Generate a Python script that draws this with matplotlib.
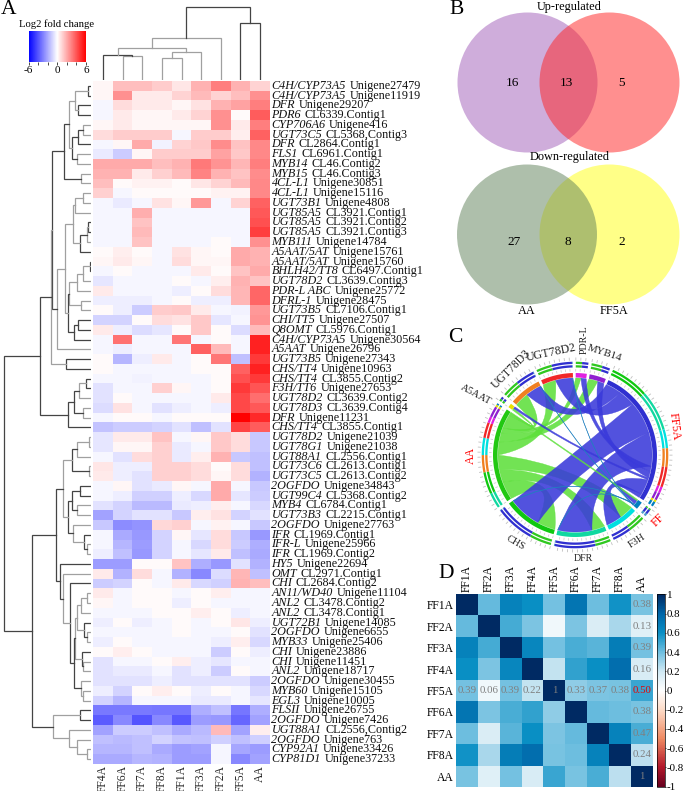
import numpy as np
import matplotlib
matplotlib.use("Agg")
import matplotlib.pyplot as plt
from matplotlib.cm import ScalarMappable
from matplotlib.collections import LineCollection
from matplotlib.colors import LinearSegmentedColormap, Normalize
from matplotlib.patches import Circle, PathPatch, Polygon
from matplotlib.path import Path

plt.rcParams["font.family"] = ["Liberation Serif", "DejaVu Serif"]

W, H = 685, 791

# Panel A
col_names = ["FF4A", "FF6A", "FF7A", "FF8A", "FF1A", "FF3A", "FF2A", "FF5A", "AA"]
genes = ["C4H/CYP73A5", "C4H/CYP73A5", "DFR", "PDR6", "CYP706A6", "UGT73C5", "DFR", "FLS1", "MYB14", "MYB15",
         "4CL-L1", "4CL-L1", "UGT73B1", "UGT85A5", "UGT85A5", "UGT85A5", "MYB111", "A5AAT/5AT", "A5AAT/5AT",
         "BHLH42/TT8", "UGT78D2", "PDR-L ABC", "DFRL-1", "UGT73B5", "CHI/TT5", "Q8OMT", "C4H/CYP73A5", "A5AAT",
         "UGT73B5", "CHS/TT4", "CHS/TT4", "F3H/TT6", "UGT78D2", "UGT78D3", "DFR", "CHS/TT4", "UGT78D2", "UGT78G1",
         "UGT88A1", "UGT73C6", "UGT73C5", "2OGFDO", "UGT99C4", "MYB4", "UGT73B3", "2OGFDO", "IFR", "IFR-L", "IFR",
         "HY5", "OMT", "CHI", "AN11/WD40", "ANL2", "ANL2", "UGT72B1", "2OGFDO", "MYB33", "CHI", "CHI", "ANL2",
         "2OGFDO", "MYB60", "EGL3", "FLSII", "2OGFDO", "UGT88A1", "2OGFDO", "CYP92A1", "CYP81D1"]
gene_ids = ["Unigene27479", "Unigene11919", "Unigene29207", "CL6339.Contig1", "Unigene416", "CL5368,Contig3",
            "CL2864.Contig1", "CL6961.Contig1", "CL46.Contig2", "CL46.Contig3", "Unigene30851", "Unigene15116",
            "Unigene4808", "CL3921.Contig1", "CL3921.Contig2", "CL3921.Contig3", "Unigene14784", "Unigene15761",
            "Unigene15760", "CL6497.Contig1", "CL3639.Contig3", "Unigene25772", "Unigene28475", "CL7106.Contig1",
            "Unigene27507", "CL5976.Contig1", "Unigene30564", "Unigene26796", "Unigene27343", "Unigene10963",
            "CL3855.Contig2", "Unigene27653", "CL3639.Contig2", "CL3639.Contig4", "Unigene11231", "CL3855.Contig1",
            "Unigene21039", "Unigene21038", "CL2556.Contig1", "CL2613.Contig1", "CL2613.Contig2", "Unigene34843",
            "CL5368.Contig2", "CL6784.Contig1", "CL2215.Contig1", "Unigene27763", "CL1969.Contig1", "Unigene25966",
            "CL1969.Contig2", "Unigene22694", "CL2971.Contig1", "CL2684.Contig2", "Unigene11104", "CL3478.Contig2",
            "CL3478.Contig1", "Unigene14085", "Unigene6655", "Unigene25406", "Unigene23886", "Unigene11451",
            "Unigene18717", "Unigene30455", "Unigene15105", "Unigene10005", "Unigene26755", "Unigene7426",
            "CL2556,Contig2", "Unigene763", "Unigene33426", "Unigene37233"]
fold_change = [
    [.2, 1.5, 1.5, 1.2, .6, 1.8, 3.0, 1.8, 1.0],
    [.2, 2.6, .5, .5, 1.0, 1.6, 1.0, 1.5, 2.6],
    [-.2, .8, .5, .5, .2, .7, 1.8, 2.2, 3.0],
    [-.2, .5, .2, .2, .5, 1.0, 2.6, .1, 3.8],
    [.2, .5, .2, .2, .2, .2, 2.6, .5, 3.0],
    [.8, 1.2, 1.2, 1.2, -.2, 1.2, 1.2, .4, 3.7],
    [-.2, .2, 2.0, -.3, 1.0, 1.3, 2.7, 1.4, 2.8],
    [-.5, -1.2, .2, 1.2, 1.2, 1.2, 2.2, 1.3, 2.8],
    [2.0, 2.0, 2.0, 1.5, 1.8, 3.1, 2.5, 1.7, 3.0],
    [1.8, 1.8, .5, 1.1, 1.6, 2.9, 1.8, 1.4, 2.7],
    [1.5, .1, .3, .3, .1, .6, 1.0, 1.6, 2.8],
    [1.1, -.2, .1, .1, .1, .1, .3, .3, 2.8],
    [-.2, -.5, -.2, .7, .2, 2.4, -.2, 1.0, 3.7],
    [-.2, -.2, 1.9, -.2, -.2, -.2, -.2, -.2, 3.9],
    [-.2, -.2, 1.4, -.2, -.2, -.2, -.2, -.2, 4.1],
    [-.2, -.2, 1.6, -.2, -.2, -.2, -.2, -.2, 4.5],
    [-.2, -.2, 1.4, -.2, -.2, -.2, .1, -.2, 2.6],
    [.1, .4, .1, -.2, .7, .2, .1, 2.0, 1.8],
    [.2, .5, .2, -.2, .8, .2, .2, 2.0, 1.8],
    [-.2, .1, -.2, -.2, -.2, .5, .1, 1.4, 2.0],
    [-.6, -.2, -.2, -.2, .1, -.2, .4, 1.8, 1.4],
    [.5, -.2, -.2, -.2, -.4, .1, .8, 1.7, 3.6],
    [-.4, -.4, -.4, -.2, .1, -.4, -.4, 1.7, 3.6],
    [.1, -.4, -1.2, 1.2, 1.3, .5, -.2, -.3, 2.4],
    [-1.0, -1.0, .1, .8, .7, 1.3, -.6, -.2, 2.5],
    [.5, -.4, -.8, -.6, .1, 1.3, .1, -.8, 1.6],
    [-.2, 3.3, -.2, -.2, 3.2, -.2, .1, -.2, 5.2],
    [-.2, -.4, -.2, -.2, -.2, 3.7, 1.6, -.2, 5.2],
    [.1, -1.7, -.4, .5, -.2, .1, 3.2, -1.5, 4.6],
    [.1, -.2, -.2, -.2, -.2, .1, .1, 3.7, 5.2],
    [-.2, -.2, -.3, -.2, -.2, -.2, .1, 4.1, 4.6],
    [-.7, -.2, -.2, 1.1, .2, -.2, .1, 4.6, 4.0],
    [-.7, .1, -.2, -.2, -.2, -.2, .5, 4.3, 3.4],
    [-.8, .7, -.2, -.7, -.4, -.2, -.4, 4.3, 3.9],
    [-.2, .1, .1, -.2, .1, .1, .1, 6.0, 5.0],
    [-1.4, -1.2, -1.2, -1.0, -.7, -1.5, -.7, 4.4, 3.8],
    [-.6, .5, .5, 1.4, -.2, .2, 1.3, .8, -1.3],
    [-.6, .2, .2, 1.1, -.5, -.2, 1.3, .8, -1.3],
    [-.2, -.7, .8, 1.1, -.5, .4, 1.8, -1.3, -1.5],
    [.6, -.4, -.4, 1.1, 1.1, .8, .1, .8, -1.5],
    [.5, -.4, -.7, 1.1, 1.1, .8, .2, .8, -1.8],
    [-.2, .2, -.7, -.5, .2, -.2, 2.0, -.2, -1.3],
    [-.2, -.4, -1.1, -1.1, -.4, -.9, 2.0, -.6, -1.2],
    [-.7, -1.0, -1.6, -1.6, -.5, -.4, .4, -.2, -.9],
    [-2.2, -1.0, -.7, -.7, -1.3, .4, .7, -1.0, -.7],
    [-1.3, -2.7, -2.5, .9, 1.1, -.2, .3, -.2, -1.3],
    [-.2, -2.0, -2.4, -1.0, .2, -.6, .8, -1.3, -2.4],
    [-.2, -1.7, -2.3, -1.0, -.2, -.9, .8, -1.2, -1.9],
    [-.4, -1.5, -2.4, -1.0, -.2, -.6, .5, -1.5, -2.0],
    [-2.3, -2.3, .1, .1, 1.4, -1.9, -2.4, -.7, -1.8],
    [.5, -1.8, .8, -.2, -1.8, -2.8, -.8, 1.7, -1.5],
    [-1.2, -1.0, .1, -.2, .5, -.9, -1.1, 1.8, 1.5],
    [.5, -.2, .1, .1, -.2, .1, .4, -.2, -.2],
    [.2, -.2, .1, .1, -.4, .1, -.2, -.2, -.2],
    [-.2, -.2, -.2, .1, .1, .4, .1, -.4, -.2],
    [-.4, .1, -.4, -.2, .1, -.2, .1, .6, -.4],
    [-.2, -.2, -.2, -.2, .1, -.2, -.2, .1, -.7],
    [-.4, .1, -.2, -.2, -.2, -.2, -.4, .4, -.9],
    [.1, .4, .1, -.2, -.2, -.2, -1.2, .1, -.4],
    [-.7, -.2, -.2, .1, .4, -.4, -.6, -.2, -.2],
    [-.7, -.5, -.5, -.2, -.7, -.4, -1.2, .1, -.2],
    [-.7, -.7, -.7, -.4, -.7, -.7, -.7, -.7, -1.2],
    [-.4, -1.0, .1, .4, .1, -.4, .1, -.2, -.9],
    [-1.0, -1.7, -.2, -.2, -.2, -.5, -.5, -.2, -.6],
    [-3.1, -3.1, -3.1, -3.2, -3.2, -1.9, -1.5, -3.2, -1.9],
    [-3.8, -2.8, -4.0, -2.8, -3.9, -2.3, -2.4, -3.6, -2.2],
    [-2.2, -1.2, -1.2, -1.5, -2.0, -1.6, 1.6, -2.2, .4],
    [-1.5, -1.6, -1.5, -1.0, -1.4, -1.5, -1.1, -1.5, -1.1],
    [-1.7, -1.7, -1.5, -2.0, -2.3, -2.2, -.2, -2.1, -2.3],
    [-2.0, -2.0, -1.7, -1.8, -2.3, -2.3, -.2, -2.8, -2.2],
]

# dendrograms as (merge height, child, child), row leaves are numbered from 1
top_block = (22, (16, (3, 1, 2), (13, 3, 4)), (19, (13, (8, 5, 6), 7), (14, 8, 9)))
rows_1_11 = (27, top_block, (10, 10, 11))
rows_12_18 = (18, (16, (8, 12, 13), 14), (11, (4, (3, 15, 16), 17), 18))
rows_19_27 = (23, (22, (14, (8, (1, 19, 20), 21), 22), (10, 23, 24)), (17, (13, 25, 26), 27))
rows_1_30 = (40, (39, rows_1_11, (34, (26, rows_12_18, rows_19_27), 28)), (25, 29, 30))
rows_31_36 = (23, (17, (12, (5, 31, 32), 33), (8, 34, 35)), 36)
rows_37_49 = (28, (19, (14, (2, 37, 38), 39), (2, 40, 41)),
              (23, (19, (11, 42, 43), (14, 44, 45)), (18, 46, (7, 47, (4, 48, 49)))))
rows_53_64 = (17, (16, (14, (10, (4, 53, 54), 55), (7, 56, (4, 57, 58))), (9, 59, (8, 60, 61))),
              (10, 62, (8, 63, 64)))
rows_50_64 = (31, 50, (28, 51, (21, 52, rows_53_64)))
rows_65_70 = (38, (11, 65, 66), (22, 67, (14, 68, (4, 69, 70))))
row_tree = (87, (51, rows_1_30, rows_31_36), (59, (35, rows_37_49, rows_50_64), rows_65_70))
col_tree = (73, (42, (32, (25, 1, (24, 2, 3)), (28, (22, 4, 5), 6)), 7), (57, 8, 9))

# Panel B
up_counts = [16, 13, 5]
down_counts = [27, 8, 2]

# Panel C: sectors clockwise from the top, links as (gene, partner, size)
sector_names = ["PDR-L", "MYB14", "FF5A", "FF", "F3H", "DFR", "CHS", "AA", "A5AAT", "UGT78D3", "UGT78D2"]
sector_colors = ["#e020e0", "#9020d0", "#3030d0", "#0080c0", "#00e0e0", "#10d8a0", "#10c810",
                 "#22c812", "#e8e000", "#f08020", "#f02828"]
label_radius = [116, 106, 103, 106, 106, 104, 106, 104, 116, 107, 105]
label_rotation = [90, -18, -83, 45, 33, 0, -30, 90, -28, 45, 12]
label_shift = [0, 0, 0, 0, 0, 0, 0, 0, -6, 1, 0]
label_sizes = [7.2, 7.8, 8.6, 8.6, 7.5, 7.2, 7.5, 8.6, 7.6, 8.4, 8.6]
label_colors = ["#222222", "#222222", "red", "red", "#222222", "#222222", "#222222", "red", "#222222", "#222222", "#222222"]
links = [("F3H", "AA", 11), ("DFR", "AA", 10), ("CHS", "AA", 14), ("UGT78D3", "AA", 11), ("UGT78D2", "AA", 10),
         ("PDR-L", "AA", 4), ("MYB14", "AA", 7), ("A5AAT", "AA", 1.5),
         ("F3H", "FF5A", 12), ("DFR", "FF5A", 26), ("CHS", "FF5A", 25), ("UGT78D3", "FF5A", 12),
         ("UGT78D2", "FF5A", 13), ("PDR-L", "FF5A", 4), ("MYB14", "FF5A", 5), ("A5AAT", "FF5A", 1.5),
         ("FF", "FF5A", 3), ("FF", "AA", 1), ("FF", "UGT78D2", .4), ("FF", "UGT78D3", .4), ("FF", "CHS", .4),
         ("FF", "DFR", .4)]
ff5a_slots = ["UGT78D3", "UGT78D2", "CHS", "DFR", "PDR-L", "MYB14", "A5AAT", "F3H", "FF"]
aa_slots = ["CHS", "DFR", "F3H", "UGT78D2", "MYB14", "PDR-L", "UGT78D3", "A5AAT", "FF"]
ff5a_ring = ["CHS", "DFR", "F3H", "UGT78D3", "UGT78D2", "PDR-L", "MYB14", "A5AAT", "FF"]
aa_ring = ["DFR", "CHS", "UGT78D3", "F3H", "UGT78D2", "PDR-L", "MYB14", "A5AAT", "FF"]

# Panel D
corr_names = ["FF1A", "FF2A", "FF3A", "FF4A", "FF5A", "FF6A", "FF7A", "FF8A", "AA"]
corr = [
    [1, .42, .66, .60, .39, .72, .40, .58, .38],
    [.42, 1, .48, .37, .06, .37, .15, .28, .13],
    [.66, .48, 1, .64, .39, .47, .44, .68, .39],
    [.60, .37, .64, 1, .22, .52, .60, .75, .16],
    [.39, .06, .39, .22, 1, .33, .37, .38, .50],
    [.72, .37, .47, .52, .33, 1, .42, .40, .38],
    [.40, .15, .44, .60, .37, .42, 1, .66, .47],
    [.58, .28, .68, .75, .38, .40, .66, 1, .24],
    [.38, .13, .39, .16, .50, .38, .47, .24, 1],
]
corr_ticks = [1, .8, .6, .4, .2, 0, -.2, -.4, -.6, -.8, -1]
corr_tick_labels = ["1", "0.8", "0.6", "0.4", "0.2", "0", "-0.2", "-0.4", "-0.6", "-0.8", "-1"]


def px_axes(fig, x0, y0, x1, y1):
    return fig.add_axes([x0 / W, 1 - y1 / H, (x1 - x0) / W, (y1 - y0) / H])


def draw_tree(ax, node, sideways):
    # returns leaf position and height of the node
    if not isinstance(node, tuple):
        return node - .5, 0
    height, left, right = node
    p1, h1 = draw_tree(ax, left, sideways)
    p2, h2 = draw_tree(ax, right, sideways)
    color = "#444444" if height % 2 else "#a0a0a0"
    hs = [h1, height, height, h2]
    ps = [p1, p1, p2, p2]
    if sideways:
        ax.plot(hs, ps, color=color, lw=.9, solid_joinstyle="miter")
    else:
        ax.plot(ps, hs, color=color, lw=.9, solid_joinstyle="miter")
    return (p1 + p2) / 2, height


fig = plt.figure(figsize=(W / 100, H / 100), dpi=100, facecolor="white")

# A: heatmap
heat_ax = px_axes(fig, 93, 81, 270, 764)
heat_ax.imshow(np.array(fold_change), cmap="bwr", vmin=-6, vmax=6, aspect="auto", interpolation="nearest")
heat_ax.axis("off")

row_ax = px_axes(fig, 2, 81, 91, 764)
draw_tree(row_ax, row_tree, True)
row_ax.set_xlim(89, 0)
row_ax.set_ylim(len(genes), 0)
row_ax.axis("off")

col_ax = px_axes(fig, 93, 5, 270, 80)
draw_tree(col_ax, col_tree, False)
col_ax.set_xlim(0, len(col_names))
col_ax.set_ylim(0, 75)
col_ax.axis("off")

bar_ax = px_axes(fig, 28.5, 31, 86, 62)
bar = fig.colorbar(ScalarMappable(Normalize(-6, 6), "bwr"), cax=bar_ax, orientation="horizontal", ticks=[-6, -4, -2, 0, 2, 4, 6])
bar_ax.set_xticklabels(["-6", "", "", "0", "", "", "6"], fontsize=8)
bar_ax.tick_params(length=2, width=.5, pad=1)
bar.outline.set_visible(False)

# everything else is placed in pixel coordinates
ov = fig.add_axes([0, 0, 1, 1], facecolor="none")
ov.set_xlim(0, W)
ov.set_ylim(H, 0)
ov.axis("off")

ov.text(57, 24, "Log2 fold change", fontsize=7.7, ha="center", va="center")
row_h = (764 - 81) / len(genes)
for i, (gene, gid) in enumerate(zip(genes, gene_ids)):
    y = 81 + (i + .5) * row_h
    t = ov.text(271.5, y, gene, fontsize=8.7, style="italic", va="center", color="#111111")
    ov.annotate(gid, xy=(1, 0), xycoords=t, xytext=(2.6, 0), textcoords="offset points",
                fontsize=8.7, va="bottom", color="#111111")
col_w = (270 - 93) / len(col_names)
for i, name in enumerate(col_names):
    ov.text(93 + (i + .5) * col_w, 765.5, name, fontsize=8.4, rotation=90, ha="center", va="top", color="#222222")

# panel letters
for letter, x, y in [("A", 9, 10), ("B", 457, 10), ("C", 455, 338), ("D", 446, 573)]:
    ov.text(x, y, letter, fontsize=15.5, ha="center", va="center")

# B: venn diagrams
ov.add_patch(Circle((527.5, 82.5), 70, color="#a05cb8", alpha=.5, lw=0))
ov.add_patch(Circle((609.5, 82.5), 70, color="#ff2020", alpha=.5, lw=0))
ov.add_patch(Circle((609.5, 234.5), 70, color="#ffff10", alpha=.5, lw=0))
ov.add_patch(Circle((527, 234.5), 70, color="#5f8059", alpha=.5, lw=0))
for x, n in zip([512, 566, 622], up_counts):
    ov.text(x, 83, str(n), fontsize=9.5, ha="center", va="center")
for x, n in zip([514, 568, 622], down_counts):
    ov.text(x, 242, str(n), fontsize=9.5, ha="center", va="center")
ov.text(569, 7, "Up-regulated", fontsize=8.8, ha="center", va="center")
ov.text(570, 157, "Down-regulated", fontsize=8.8, ha="center", va="center")
ov.text(527, 311, "AA", fontsize=8.8, ha="center", va="center")
ov.text(614, 311, "FF5A", fontsize=8.8, ha="center", va="center")

# C: chord diagram, angles in degrees clockwise from the top
cx, cy = 575, 455
partner_color = {"FF5A": "#3030d0", "AA": "#30c820", "FF": "#1880c0"}
ribbon_color = {"FF5A": "#3a3ada", "AA": "#5ee03c", "FF": "#2080c0"}


def pol(a, r):
    a = np.radians(a)
    return cx + r * np.sin(a), cy - r * np.cos(a)


def band(a1, a2, r1, r2, color, z=3):
    angs = np.linspace(a1, a2, max(int(abs(a2 - a1)) + 2, 2))
    pts = [pol(a, r2) for a in angs] + [pol(a, r1) for a in angs[::-1]]
    ov.add_patch(Polygon(pts, closed=True, facecolor=color, edgecolor="none", zorder=z))


def control(t1, t2, r):
    # bezier control point for an edge running clockwise from angle t1 to t2
    arc = (t2 - t1) % 360
    return pol(t1 + arc / 2, .32 * r * np.cos(np.radians(arc / 2)))


sizes = {s: 0 for s in sector_names}
for a, b, v in links:
    sizes[a] += v
    sizes[b] += v
gap = 2.0
scale = (360 - gap * len(sector_names)) / sum(sizes.values())
spans = {}
ang = .5
for s in sector_names:
    spans[s] = (ang, ang + sizes[s] * scale)
    ang += sizes[s] * scale + gap


def slots_for(sector):
    # order of the partners inside one sector, clockwise
    partners = {}
    for a, b, v in links:
        if a == sector:
            partners[b] = v
        if b == sector:
            partners[a] = v
    if sector == "FF5A":
        order = ff5a_slots
    elif sector == "AA":
        order = aa_slots
    else:
        order = ["AA", "FF5A", "FF"] + [s for s in sector_names if s not in ("AA", "FF5A", "FF")]
    return [(p, partners[p]) for p in order if p in partners]


slot_pos = {}
for s in sector_names:
    a = spans[s][0]
    for p, v in slots_for(s):
        slot_pos[(s, p)] = (a, a + v * scale)
        a += v * scale

# ribbons
R = 77
for a, b, v in links:
    kind = b if b in ribbon_color else a
    a1, a2 = slot_pos[(a, b)]
    b1, b2 = slot_pos[(b, a)]
    arc1 = [pol(t, R) for t in np.linspace(a1, a2, 12)]
    arc2 = [pol(t, R) for t in np.linspace(b1, b2, 24)]
    verts = arc1 + [control(a2, b1, R), arc2[0]] + arc2[1:] + [control(b2, a1, R), arc1[0], arc1[0]]
    codes = [Path.MOVETO] + [Path.LINETO] * (len(arc1) - 1) + [Path.CURVE3, Path.CURVE3] + \
            [Path.LINETO] * (len(arc2) - 1) + [Path.CURVE3, Path.CURVE3, Path.CLOSEPOLY]
    ov.add_patch(PathPatch(Path(verts, codes), facecolor=ribbon_color[kind], edgecolor=ribbon_color[kind],
                           lw=.3, alpha=.88, zorder=2))

# sector bands, tracks, ticks and labels
color_of = dict(zip(sector_names, sector_colors))
ticks_in = []
ticks_out = []
for s, color, lr, rot, shift, fs, lc in zip(sector_names, sector_colors, label_radius, label_rotation,
                                            label_shift, label_sizes, label_colors):
    a1, a2 = spans[s]
    band(a1, a2, 77.5, 82, color)
    slot_sizes = dict(slots_for(s))
    if s == "FF5A":
        ring = [(p, slot_sizes[p], color_of[p]) for p in ff5a_ring if p in slot_sizes]
    elif s == "AA":
        ring = [(p, slot_sizes[p], color_of[p]) for p in aa_ring if p in slot_sizes]
    else:
        ring = [(p, v, partner_color.get(p, "#1880c0")) for p, v in slots_for(s)]
    a = a1
    for p, v, c in ring:
        band(a, a + v * scale, 87.5, 89.8, c)
        band(a, a + v * scale, 91, 93.3, c)
        a += v * scale
    for t in np.arange(a1, a2 + .01, 3.0):
        ticks_in.append([pol(t, 83.5), pol(t, 86)])
        ticks_out.append([pol(t, 94.5), pol(t, 97.5)])
    lx, ly = pol((a1 + a2) / 2 + shift, lr)
    ov.text(lx, ly, s, fontsize=fs, color=lc, rotation=rot, ha="center", va="center", zorder=4)
ov.add_collection(LineCollection(ticks_in, colors="#c8c8c8", linewidths=.5, zorder=2))
ov.add_collection(LineCollection(ticks_out, colors="#c0c0c0", linewidths=.6, zorder=2))

# D: correlation heatmap
corr_cmap = LinearSegmentedColormap.from_list("corr", [
    (0, "#67001f"), (.1, "#b2182b"), (.25, "#ef8a62"), (.4, "#fddbc7"), (.5, "#ffffff"),
    (.6, "#cfe8f3"), (.7, "#6fbfe0"), (.8, "#0a8fc4"), (.9, "#0066a8"), (1, "#002a63")])
corr_ax = px_axes(fig, 456, 594.3, 652.7, 786.7)
corr_ax.imshow(np.array(corr), cmap=corr_cmap, vmin=-1, vmax=1, aspect="auto", interpolation="nearest")
corr_ax.set_xticks(range(len(corr_names)))
corr_ax.set_xticklabels(corr_names, rotation=90, fontsize=8.4)
corr_ax.xaxis.tick_top()
corr_ax.set_yticks(range(len(corr_names)))
corr_ax.set_yticklabels(corr_names, fontsize=8.4)
corr_ax.tick_params(length=0, pad=1.5)
for sp in corr_ax.spines.values():
    sp.set_visible(False)
n = len(corr_names)
for k in range(n):
    if k != 4:
        corr_ax.text(k, 4, f"{corr[4][k]:.2f}", fontsize=7.8, color="#7f7f7f", ha="center", va="center")
        corr_ax.text(8, k, f"{corr[k][8]:.2f}" if k != 8 else "1", fontsize=7.8, color="#7f7f7f", ha="center", va="center")
corr_ax.text(4, 4, "1", fontsize=7.8, color="#7f7f7f", ha="center", va="center")
corr_ax.text(8, 4, "0.50", fontsize=7.8, color="#d01020", ha="center", va="center")

corr_bar = px_axes(fig, 656.7, 594.3, 665, 786.7)
cb = fig.colorbar(ScalarMappable(Normalize(-1, 1), corr_cmap), cax=corr_bar, ticks=corr_ticks)
corr_bar.set_yticklabels(corr_tick_labels, fontsize=7.9)
corr_bar.tick_params(length=1, width=.5, pad=.5)
cb.outline.set_linewidth(.5)

fig.savefig("out.png", dpi=100, facecolor="white")
